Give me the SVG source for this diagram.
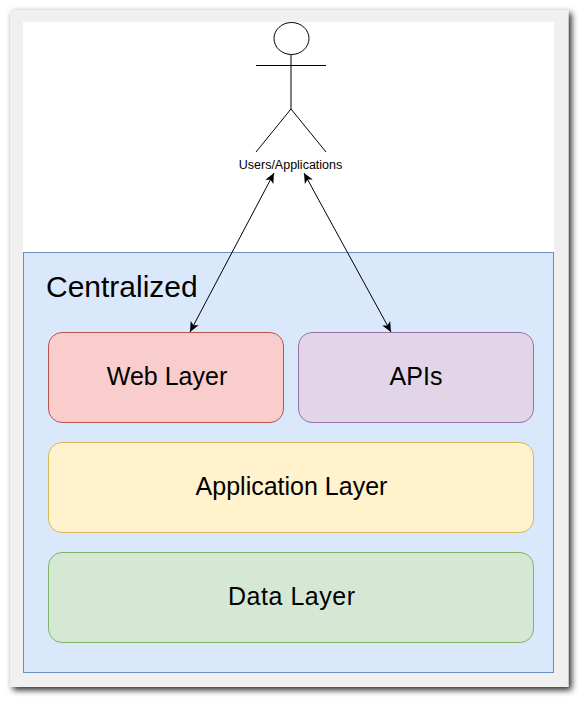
<svg xmlns="http://www.w3.org/2000/svg" width="586" height="705" viewBox="0 0 586 705">
<style>
text{font-family:"Liberation Sans",Arial,sans-serif;fill:#000}
.lbl{font-size:25px;text-anchor:middle}
.box{stroke-width:1}
.fig{fill:none;stroke:#000;stroke-width:1}
.conn{fill:none;stroke:#000;stroke-width:1;marker-start:url(#a);marker-end:url(#b)}
</style>
<defs>
<filter id="sh" x="-5%" y="-5%" width="110%" height="110%"><feDropShadow dx="3" dy="3" stdDeviation="3" flood-color="#000" flood-opacity="0.85"/></filter>
<marker id="b" markerUnits="userSpaceOnUse" markerWidth="12" markerHeight="12" refX="10" refY="5" orient="auto"><path d="M0 0.500L10 5L0 9.500L2.500 5Z" fill="#000"/></marker>
<marker id="a" markerUnits="userSpaceOnUse" markerWidth="12" markerHeight="12" refX="0" refY="5" orient="auto"><path d="M10 0.500L0 5L10 9.500L7.500 5Z" fill="#000"/></marker>
</defs>
<rect width="586" height="705" fill="#fff"/>
<rect x="10" y="10" width="558.500" height="677" fill="#f0f0f0" filter="url(#sh)"/>
<rect x="23" y="22" width="531" height="230.500" fill="#fff"/>
<g id="centralized">
<rect x="23.500" y="252.500" width="530" height="420" fill="#dae8fc" stroke="#6c8ebf"/>
<text x="46" y="297" font-size="30">Centralized</text>
</g>
<g id="users">
<ellipse cx="291.500" cy="38.500" rx="17.500" ry="16" class="fig"/>
<path d="M291 54.500V109M256 65.500H326M291 109L256 152M291 109L326 152" class="fig"/>
<text x="290.500" y="169" font-size="12.500" text-anchor="middle">Users/Applications</text>
</g>
<g id="web-layer"><rect x="48.500" y="332.500" width="235" height="90" rx="13.500" fill="#facdcd" stroke="#b85450" class="box"/><text x="167" y="385" class="lbl">Web Layer</text></g>
<g id="apis"><rect x="298.500" y="332.500" width="235" height="90" rx="13.500" fill="#e1d5e7" stroke="#9673a6" class="box"/><text x="416" y="385" class="lbl">APIs</text></g>
<g id="application-layer"><rect x="48.500" y="442.500" width="485" height="90" rx="13.500" fill="#fff2cc" stroke="#d6b656" class="box"/><text x="291.500" y="495" class="lbl">Application Layer</text></g>
<g id="data-layer"><rect x="48.500" y="552.500" width="485" height="90" rx="13.500" fill="#d5e8d4" stroke="#82b366" class="box"/><text x="291.500" y="605" class="lbl" textLength="127">Data Layer</text></g>
<g id="connectors">
<path d="M274 173L190 332" class="conn"/>
<path d="M304 173L391 332" class="conn"/>
</g>
</svg>
